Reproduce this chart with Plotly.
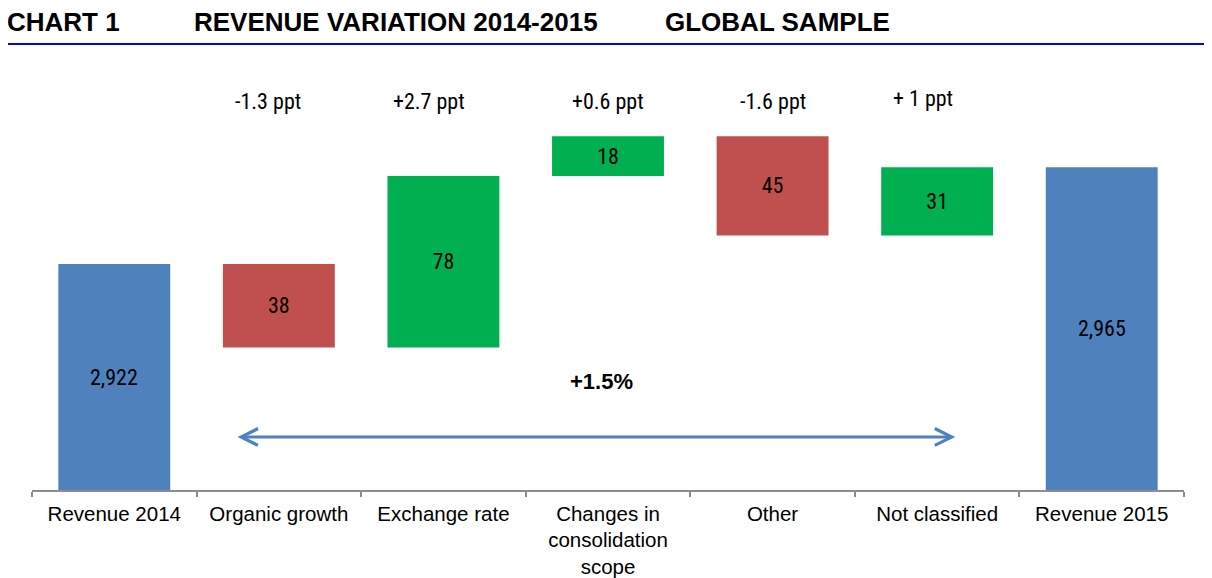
import plotly.graph_objects as go

# chart data
categories = ["Revenue 2014", "Organic growth", "Exchange rate",
              "Changes in<br>consolidation<br>scope", "Other",
              "Not classified", "Revenue 2015"]
measures = ["absolute", "relative", "relative", "relative", "relative", "relative", "total"]
values = [2922, -38, 78, 18, -45, 31, 0]
bar_labels = ["2,922", "38", "78", "18", "45", "31", "2,965"]
ppt_labels = ["-1.3 ppt", "+2.7 ppt", "+0.6 ppt", "-1.6 ppt", "+ 1 ppt"]
total_change = "+1.5%"

NARROW = "Liberation Sans Narrow, Arial Narrow, Roboto Condensed, Roboto, sans-serif"
ARIAL = "Liberation Sans, Arial, sans-serif"
Y_MIN, Y_MAX = 2819.3, 3014.7

# totals are clipped by the axis floor, so their labels go on as annotations
inside_text = [t if m == "relative" else "" for t, m in zip(bar_labels, measures)]

fig = go.Figure(go.Waterfall(
    x=categories,
    y=values,
    measure=measures,
    text=inside_text,
    textposition="inside",
    insidetextanchor="middle",
    textangle=0,
    textfont=dict(family=NARROW, size=22, color="black"),
    increasing=dict(marker=dict(color="#00B050")),
    decreasing=dict(marker=dict(color="#C0504D")),
    totals=dict(marker=dict(color="#4F81BD")),
    connector=dict(visible=False),
    hoverinfo="skip",
))

running = 0
for cat, m, v, lab in zip(categories, measures, values, bar_labels):
    if m == "absolute":
        running = v
    elif m == "relative":
        running += v
    if m != "relative":
        fig.add_annotation(x=cat, y=(Y_MIN + running) / 2, text=lab, showarrow=False,
                           font=dict(family=NARROW, size=22, color="black"))

# ppt labels above the middle bars
shifts = [-11, -14, 0, 0, -14]
for i, (lab, dx) in enumerate(zip(ppt_labels, shifts)):
    fig.add_annotation(x=categories[i + 1], y=2996 if i < 4 else 2997, text=lab,
                       showarrow=False, xshift=dx,
                       font=dict(family=NARROW, size=22, color="black"))

# total change label and double arrow
fig.add_annotation(x=3, y=2868.4, text="<b>" + total_change + "</b>", showarrow=False,
                   xshift=-7, font=dict(family=ARIAL, size=22, color="black"))
fig.add_annotation(x=5.11, y=2843.4, ax=0.74, ay=2843.4, axref="x", ayref="y",
                   text="", showarrow=True, arrowside="end+start",
                   arrowhead=5, arrowsize=1.1, arrowwidth=3, arrowcolor="#4F81BD")

# header
for txt, px in [("CHART 1", 5), ("REVENUE VARIATION 2014-2015", 192), ("GLOBAL SAMPLE", 663)]:
    fig.add_annotation(x=(px - 32) / 1152, y=(490 - 22) / 430, xref="paper", yref="paper",
                       xanchor="left", yanchor="middle", text="<b>" + txt + "</b>",
                       showarrow=False, font=dict(family=ARIAL, size=26, color="black"))
fig.add_shape(type="line", xref="paper", yref="paper",
              x0=-32 / 1152, x1=1180 / 1152, y0=(490 - 44) / 430, y1=(490 - 44) / 430,
              line=dict(color="#0000F0", width=2))

# page body has an 8px margin, so the figure is 8px smaller each way
fig.update_layout(
    width=1204, height=570,
    margin=dict(l=24, r=28, t=52, b=88, autoexpand=False),
    plot_bgcolor="white", paper_bgcolor="white",
    showlegend=False,
    waterfallgap=0.32,
    xaxis=dict(type="category", showline=True, linecolor="#8C8C8C", linewidth=2,
               ticks="outside", tickson="boundaries", ticklen=5, tickcolor="#8C8C8C",
               tickwidth=2, ticklabelstandoff=4,
               tickfont=dict(family=ARIAL, size=20.5, color="black"),
               showgrid=False),
    yaxis=dict(range=[Y_MIN, Y_MAX], visible=False, showgrid=False),
)

fig.write_html("out.html")
